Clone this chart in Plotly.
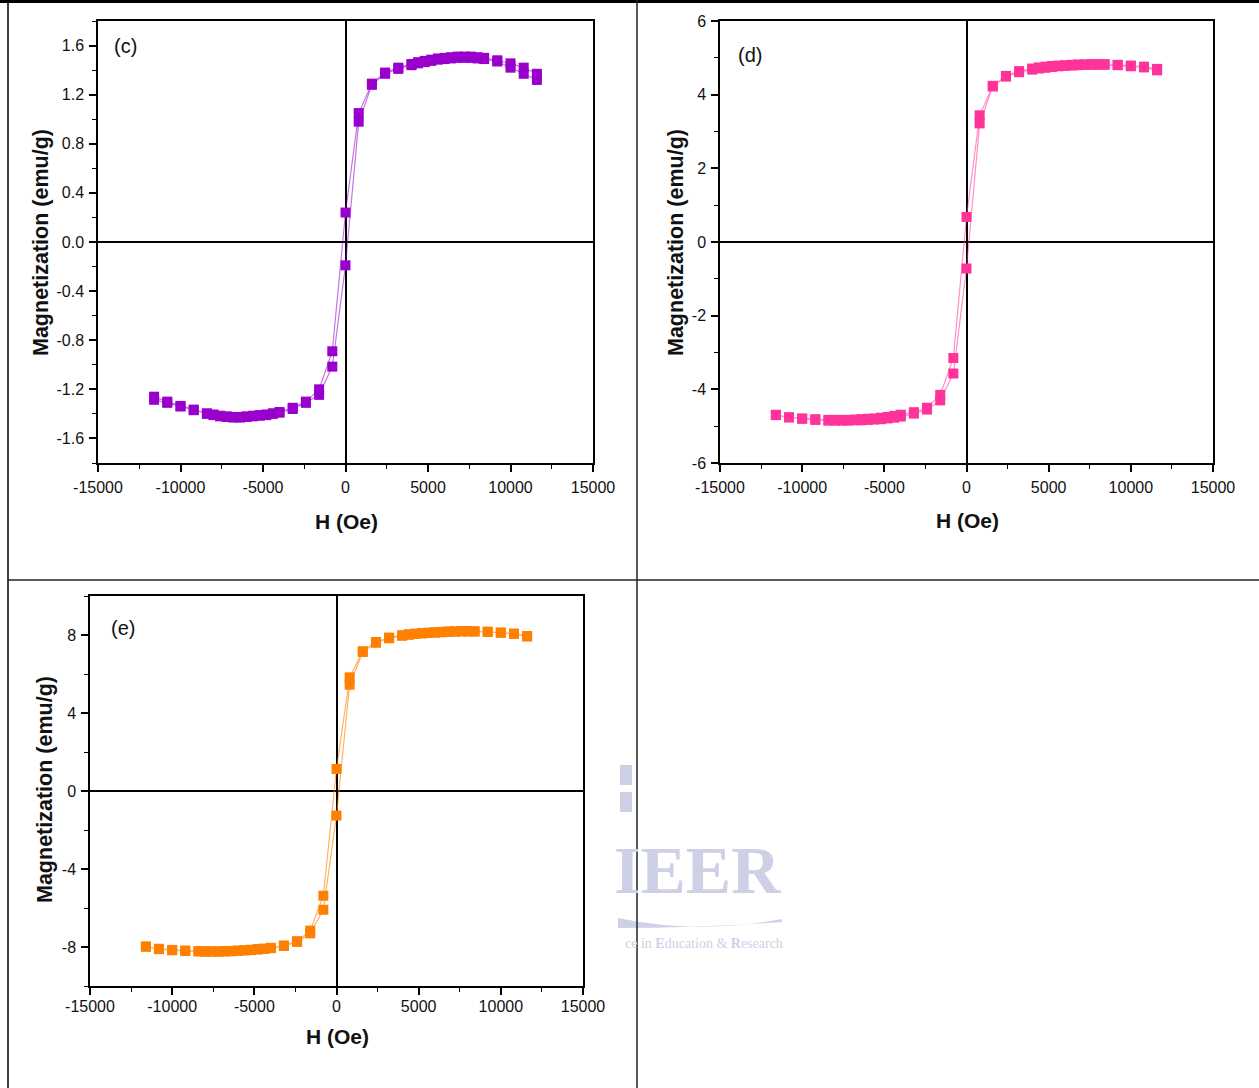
import plotly.graph_objects as go

# ---------------- data ----------------
H_down = [11600, 10800, 10000, 9200, 8400, 8000, 7600, 7200, 6800, 6400, 6000, 5600, 5200, 4800, 4400, 4000,
          3200, 2400, 1600, 800, 0, -800, -1600, -2400, -3200, -4000, -4400, -4800, -5200, -5600, -6000,
          -6400, -6800, -7200, -7600, -8000, -8400, -9200, -10000, -10800, -11600]
H_up = [-11600, -10800, -10000, -9200, -8400, -8000, -7600, -7200, -6800, -6400, -6000, -5600, -5200, -4800,
        -4400, -4000, -3200, -2400, -1600, -800, 0, 800, 1600, 2400, 3200, 4000, 4400, 4800, 5200, 5600, 6000,
        6400, 6800, 7200, 7600, 8000, 8400, 9200, 10000, 10800, 11600]

Mc_down = [1.37, 1.42, 1.455, 1.48, 1.50, 1.505, 1.51, 1.51, 1.51, 1.505, 1.50, 1.495, 1.485, 1.475, 1.465, 1.45,
           1.42, 1.38, 1.29, 1.05, 0.24, -0.89, -1.20, -1.30, -1.35, -1.385, -1.395, -1.405, -1.41, -1.415, -1.42,
           -1.425, -1.425, -1.42, -1.415, -1.405, -1.395, -1.365, -1.335, -1.30, -1.26]
Mc_up = [-1.285, -1.31, -1.34, -1.37, -1.40, -1.41, -1.42, -1.425, -1.43, -1.43, -1.425, -1.42, -1.415, -1.41,
         -1.40, -1.39, -1.36, -1.31, -1.245, -1.015, -0.19, 0.98, 1.28, 1.37, 1.41, 1.44, 1.455, 1.465, 1.475,
         1.485, 1.49, 1.495, 1.50, 1.50, 1.50, 1.495, 1.49, 1.47, 1.42, 1.37, 1.32]

Md_down = [4.70, 4.76, 4.79, 4.81, 4.83, 4.83, 4.83, 4.82, 4.82, 4.81, 4.80, 4.79, 4.78, 4.76, 4.74, 4.71,
           4.64, 4.51, 4.24, 3.44, 0.68, -3.15, -4.15, -4.50, -4.62, -4.69, -4.72, -4.75, -4.77, -4.79, -4.80,
           -4.81, -4.82, -4.83, -4.83, -4.83, -4.83, -4.81, -4.79, -4.76, -4.70]
Md_up = [-4.69, -4.76, -4.80, -4.83, -4.85, -4.85, -4.85, -4.85, -4.84, -4.84, -4.83, -4.82, -4.81, -4.79,
         -4.77, -4.74, -4.66, -4.55, -4.30, -3.57, -0.72, 3.22, 4.22, 4.49, 4.61, 4.68, 4.71, 4.73, 4.75, 4.77,
         4.78, 4.79, 4.80, 4.81, 4.81, 4.81, 4.81, 4.80, 4.77, 4.74, 4.66]

Me_down = [7.95, 8.07, 8.12, 8.17, 8.19, 8.20, 8.20, 8.19, 8.18, 8.16, 8.14, 8.12, 8.10, 8.07, 8.04, 7.99,
           7.87, 7.64, 7.17, 5.83, 1.13, -5.37, -7.16, -7.70, -7.92, -8.04, -8.08, -8.11, -8.14, -8.16, -8.18,
           -8.20, -8.21, -8.22, -8.22, -8.22, -8.21, -8.18, -8.15, -8.09, -7.97]
Me_up = [-7.99, -8.11, -8.17, -8.21, -8.23, -8.24, -8.24, -8.24, -8.23, -8.22, -8.20, -8.18, -8.16, -8.13,
         -8.10, -8.06, -7.95, -7.74, -7.30, -6.09, -1.26, 5.45, 7.13, 7.60, 7.83, 7.96, 8.01, 8.05, 8.08, 8.10,
         8.12, 8.14, 8.16, 8.17, 8.18, 8.18, 8.18, 8.16, 8.12, 8.06, 7.92]

x_tickvals = [-15000, -10000, -5000, 0, 5000, 10000, 15000]
x_ticktext = ["-15000", "-10000", "-5000", "0", "5000", "10000", "15000"]
yc_tickvals = [-1.6, -1.2, -0.8, -0.4, 0.0, 0.4, 0.8, 1.2, 1.6]
yc_ticktext = ["-1.6", "-1.2", "-0.8", "-0.4", "0.0", "0.4", "0.8", "1.2", "1.6"]
yd_tickvals = [-6, -4, -2, 0, 2, 4, 6]
yd_ticktext = ["-6", "-4", "-2", "0", "2", "4", "6"]
ye_tickvals = [-8, -4, 0, 4, 8]
ye_ticktext = ["-8", "-4", "0", "4", "8"]

panel_labels = ["(c)", "(d)", "(e)"]
x_title = "H (Oe)"
y_title = "Magnetization (emu/g)"

# ---------------- layout helpers ----------------
W, Hh = 1259, 1088
def px(x):
    return x / W
def py(y):
    return 1 - y / Hh

FONT = "Liberation Sans, Arial, sans-serif"

fig = go.Figure()

panels = [
    dict(xa="x", ya="y", Hd=H_down, Md=Mc_down, Hu=H_up, Mu=Mc_up,
         color="#9900CC", line="rgba(153,0,204,0.55)"),
    dict(xa="x2", ya="y2", Hd=H_down, Md=Md_down, Hu=H_up, Mu=Md_up,
         color="#FF3399", line="rgba(255,51,153,0.55)"),
    dict(xa="x3", ya="y3", Hd=H_down, Md=Me_down, Hu=H_up, Mu=Me_up,
         color="#FF8000", line="rgba(255,128,0,0.6)"),
]
for p in panels:
    fig.add_trace(go.Scatter(
        x=p["Hd"] + p["Hu"], y=p["Md"] + p["Mu"],
        mode="lines+markers", xaxis=p["xa"], yaxis=p["ya"],
        line=dict(color=p["line"], width=1.2),
        marker=dict(symbol="square", size=10, color=p["color"], line=dict(width=0)),
        showlegend=False, hoverinfo="skip"))

def xaxis_cfg(domain, anchor, standoff):
    return dict(domain=domain, anchor=anchor, range=[-15000, 15000],
                tickvals=x_tickvals, ticktext=x_ticktext,
                ticks="outside", ticklen=7, tickwidth=1.5, tickcolor="black",
                minor=dict(ticks="outside", ticklen=4, tickwidth=1.2, tickcolor="black", dtick=2500, tick0=0),
                showline=True, linecolor="black", linewidth=1.5, mirror=True,
                showgrid=False, zeroline=True, zerolinecolor="black", zerolinewidth=1.5,
                automargin=False,
                tickfont=dict(family=FONT, size=16, color="#111"), ticklabelstandoff=standoff)

def yaxis_cfg(domain, anchor, rng, tv, tt, minor_dt):
    return dict(domain=domain, anchor=anchor, range=rng,
                tickvals=tv, ticktext=tt,
                ticks="outside", ticklen=7, tickwidth=1.5, tickcolor="black",
                minor=dict(ticks="outside", ticklen=4, tickwidth=1.2, tickcolor="black", dtick=minor_dt, tick0=0),
                showline=True, linecolor="black", linewidth=1.5, mirror=True,
                showgrid=False, zeroline=True, zerolinecolor="black", zerolinewidth=1.5,
                automargin=False,
                tickfont=dict(family=FONT, size=16, color="#111"), ticklabelstandoff=2)

ytop, ybot = 21, 463
fig.update_layout(
    width=W, height=Hh, autosize=False,
    margin=dict(l=0, r=0, t=0, b=0, pad=0, autoexpand=False),
    paper_bgcolor="white", plot_bgcolor="white",
    xaxis=xaxis_cfg([px(98), px(593)], "y", 2),
    yaxis=yaxis_cfg([py(ybot), py(ytop)], "x", [-1.8, 1.8], yc_tickvals, yc_ticktext, 0.2),
    xaxis2=xaxis_cfg([px(720), px(1213)], "y2", 2),
    yaxis2=yaxis_cfg([py(ybot), py(ytop)], "x2", [-6, 6], yd_tickvals, yd_ticktext, 1),
    xaxis3=xaxis_cfg([px(90), px(583)], "y3", -2),
    yaxis3=yaxis_cfg([py(986), py(596)], "x3", [-10, 10], ye_tickvals, ye_ticktext, 2),
)

ann = []
# axis titles
for cx, cy in [(346, 521), (967, 520), (337, 1036)]:
    ann.append(dict(x=px(cx), y=py(cy), xref="paper", yref="paper", text="<b>%s</b>" % x_title,
                    showarrow=False, font=dict(family=FONT, size=21, color="#111"),
                    xanchor="center", yanchor="middle"))
for cx, cy in [(41, 243), (676, 243), (45, 790)]:
    ann.append(dict(x=px(cx), y=py(cy), xref="paper", yref="paper", text="<b>%s</b>" % y_title,
                    showarrow=False, textangle=-90, font=dict(family=FONT, size=21.5, color="#111"),
                    xanchor="center", yanchor="middle"))
# panel labels
for lab, (cx, cy) in zip(panel_labels, [(125, 46), (750, 55), (123, 628)]):
    ann.append(dict(x=px(cx), y=py(cy), xref="paper", yref="paper", text=lab,
                    showarrow=False, font=dict(family=FONT, size=20, color="#111"),
                    xanchor="center", yanchor="middle"))
# faint watermark
wm = "rgb(206,209,230)"
ann.append(dict(x=px(783), y=py(870), xref="paper", yref="paper", text="<b>IEER</b>",
                showarrow=False, font=dict(family="Liberation Serif, serif", size=68, color=wm),
                xanchor="right", yanchor="middle"))
ann.append(dict(x=px(785), y=py(943), xref="paper", yref="paper",
                text="ce in <b>E</b>ducation &amp; <b>R</b>esearch",
                showarrow=False, font=dict(family="Liberation Serif, serif", size=14, color=wm),
                xanchor="right", yanchor="middle"))
fig.update_layout(annotations=ann)

shapes = []
# table borders
shapes.append(dict(type="rect", xref="paper", yref="paper", x0=0, x1=1, y0=py(3), y1=1,
                   fillcolor="black", line=dict(width=0), layer="below"))
shapes.append(dict(type="line", xref="paper", yref="paper", x0=px(8), x1=px(8), y0=0, y1=1,
                   line=dict(color="black", width=1.5)))
shapes.append(dict(type="line", xref="paper", yref="paper", x0=px(637), x1=px(637), y0=0, y1=1,
                   line=dict(color="#222", width=1.5)))
shapes.append(dict(type="line", xref="paper", yref="paper", x0=px(8), x1=1, y0=py(580), y1=py(580),
                   line=dict(color="#222", width=1.5)))
# watermark swoosh and logo fragments
shapes.append(dict(type="path", xref="paper", yref="paper",
                   path="M %f %f Q %f %f %f %f L %f %f Q %f %f %f %f Z" % (
                       px(618), py(918), px(700), py(935), px(782), py(919),
                       px(782), py(922), px(700), py(928), px(618), py(928)),
                   fillcolor=wm, line=dict(width=0), layer="below"))
shapes.append(dict(type="rect", xref="paper", yref="paper", x0=px(620), x1=px(632), y0=py(785), y1=py(765),
                   fillcolor=wm, line=dict(width=0), layer="below"))
shapes.append(dict(type="rect", xref="paper", yref="paper", x0=px(620), x1=px(632), y0=py(812), y1=py(792),
                   fillcolor=wm, line=dict(width=0), layer="below"))
fig.update_layout(shapes=shapes)

fig.write_html("out.html")
